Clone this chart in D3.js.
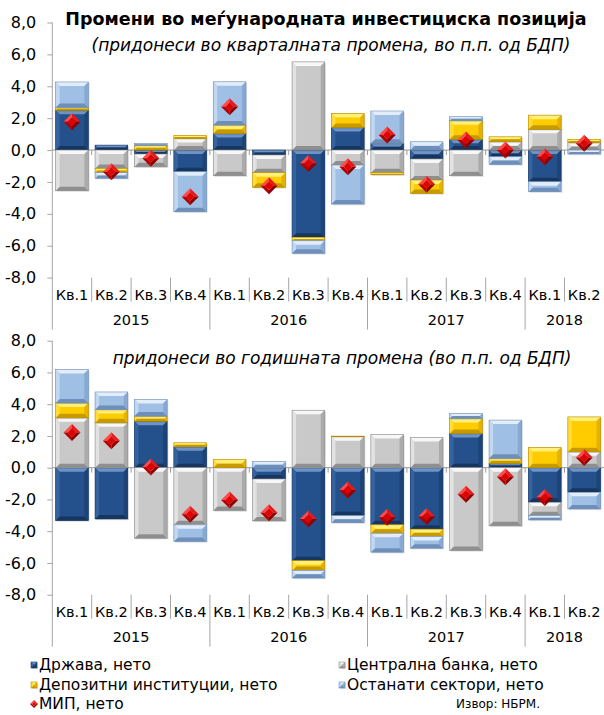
<!DOCTYPE html>
<html><head><meta charset="utf-8">
<script src="https://cdn.jsdelivr.net/npm/d3@7"></script>
<style>
body{margin:0;background:#fff;}
svg{display:block;font-family:"DejaVu Sans",sans-serif;}
</style>
</head><body>
<svg id="chart" width="604" height="715"></svg>
<script>
// Category axis
const quarters = ["Кв.1","Кв.2","Кв.3","Кв.4","Кв.1","Кв.2","Кв.3","Кв.4","Кв.1","Кв.2","Кв.3","Кв.4","Кв.1","Кв.2"];
const years = ["2015","2016","2017","2018"];
const yearSpan = [4,4,4,2];
const yTicks = [-8,-6,-4,-2,0,2,4,6,8];

// Contributions to the quarterly change (p.p. of GDP)
const drzavaQ     = [2.50, 0.31,-0.25,-1.36, 1.04,-0.31,-5.47, 1.42, 0.42,-0.56, 0.67,-0.42,-1.99, 0.00];
const centralnaQ  = [-2.55,-1.15,-0.80, 0.73,-1.61,-1.11, 5.53,-0.94,-1.42,-1.32,-1.61, 0.52, 1.30, 0.46];
const depozitniQ  = [0.17,-0.27, 0.30, 0.19, 0.53,-0.92,-0.22, 0.88,-0.13,-0.84, 1.17, 0.31, 0.89, 0.21];
const ostanatiQ   = [1.60,-0.35, 0.12,-2.51, 2.71, 0.00,-0.79,-2.45, 2.03, 0.52, 0.25,-0.48,-0.62,-0.25];
const mipQ        = [1.78,-1.36,-0.52,-2.93, 2.72,-2.24,-0.84,-1.05, 0.94,-2.15, 0.63, 0.00,-0.42, 0.42];

// Contributions to the annual change (p.p. of GDP)
const drzavaG     = [-3.33,-3.23, 2.93, 1.32, 0.00,-0.71,-5.86,-3.02,-3.60,-3.87, 2.16, 0.27,-2.18,-1.55];
const centralnaG  = [3.14, 2.83,-4.44,-3.60,-2.70,-2.64, 3.62, 1.95, 2.09, 1.91,-5.21,-3.66,-0.84, 1.00];
const depozitniG  = [0.94, 0.83, 0.32, 0.25, 0.52, 0.00,-0.61, 0.04,-0.53,-0.47, 0.94, 0.32, 1.28, 2.20];
const ostanatiG   = [2.10, 1.11, 1.04,-1.05, 0.00, 0.38,-0.48,-0.44,-1.19,-0.73, 0.31, 2.41,-0.27,-1.05];
const mipG        = [2.22, 1.70, 0.05,-2.93,-2.03,-2.83,-3.23,-1.40,-3.12,-3.08,-1.68,-0.57,-1.88, 0.65];

const seriesNames = ["Држава, нето","Централна банка, нето","Депозитни институции, нето","Останати сектори, нето","МИП, нето"];

// Bevelled fills per sector
const palettes = [
  {base:"#24518b", hi:"#6e93c4", lo:"#16365f", left:"#3463a0", right:"#1c4477", edge:"#173a66"},
  {base:"#c9c9c9", hi:"#f7f7f7", lo:"#8f8f8f", left:"#e2e2e2", right:"#ababab", edge:"#8a8a8a"},
  {base:"#ffcc00", hi:"#fff07a", lo:"#c79a00", left:"#ffdc3a", right:"#e4b200", edge:"#b48a00"},
  {base:"#9fbfe5", hi:"#e2edf9", lo:"#6d8fba", left:"#c2d7f0", right:"#88a9d2", edge:"#6f8fb8"}
];

const svg = d3.select("#chart");
const fmt = d3.formatLocale({decimal:",", thousands:".", grouping:[3], currency:["",""], minus:"-"}).format(".1f");
const axisColor = "#a6a6a6";

const x = d3.scaleBand().domain(d3.range(quarters.length)).range([52.3, 603.9]).paddingInner(0.17).paddingOuter(0.085);

function bevelRect(g, bx, v0, v1, w, pal) {
  const top = Math.min(v0, v1), h = Math.abs(v1 - v0);
  if (h < 0.3) return;
  const b = Math.min(4, h / 2, w / 2);
  const x0 = bx, x1 = bx + w, y0 = top, y1 = top + h;
  g.append("rect").attr("x", x0 + 1.2).attr("y", y0 + 1.2).attr("width", w).attr("height", h)
    .attr("fill", "#000").attr("opacity", 0.12);
  g.append("rect").attr("x", x0).attr("y", y0).attr("width", w).attr("height", h).attr("fill", pal.base);
  const poly = (pts, fill) => g.append("polygon").attr("points", pts.map(p => p.join(",")).join(" ")).attr("fill", fill);
  poly([[x0,y0],[x1,y0],[x1-b,y0+b],[x0+b,y0+b]], pal.hi);
  poly([[x0,y1],[x1,y1],[x1-b,y1-b],[x0+b,y1-b]], pal.lo);
  poly([[x0,y0],[x0+b,y0+b],[x0+b,y1-b],[x0,y1]], pal.left);
  poly([[x1,y0],[x1-b,y0+b],[x1-b,y1-b],[x1,y1]], pal.right);
  g.append("rect").attr("x", x0).attr("y", y0).attr("width", w).attr("height", h)
    .attr("fill", "none").attr("stroke", pal.edge).attr("stroke-width", 0.6);
}

function diamond(g, cx, cy, r) {
  const ri = r * 0.5;
  const T=[cx,cy-r], R=[cx+r,cy], B=[cx,cy+r], L=[cx-r,cy];
  const t=[cx,cy-ri], rr=[cx+ri,cy], bb=[cx,cy+ri], l=[cx-ri,cy];
  const poly = (pts, fill) => g.append("polygon").attr("points", pts.map(p => p.join(",")).join(" ")).attr("fill", fill);
  poly([L,T,t,l], "#ff4a4a");
  poly([T,R,rr,t], "#e41b1b");
  poly([R,B,bb,rr], "#8c0000");
  poly([B,L,l,bb], "#b30000");
  poly([t,rr,bb,l], "#e00000");
}

function panel(cfg) {
  const g = svg.append("g");
  const y = d3.scaleLinear().domain([-8, 8]).range([cfg.yBottom, cfg.yTop]);
  const xl = x.range()[0], xr = x.range()[1], step = x.step();
  const base = y(-8);

  // value axis
  const ax = g.append("g").attr("transform", `translate(${xl},0)`)
    .call(d3.axisLeft(y).tickValues(yTicks).tickSize(5).tickPadding(11).tickFormat(fmt));
  ax.select(".domain").remove();
  ax.selectAll(".tick line").attr("stroke", axisColor);
  ax.selectAll(".tick text").attr("font-size", 16).attr("fill", "#000").attr("font-family", "DejaVu Sans");
  g.append("line").attr("x1", xl).attr("x2", xl).attr("y1", y(8)).attr("y2", base + 52).attr("stroke", axisColor);

  // zero line with category ticks
  g.append("line").attr("x1", xl).attr("x2", xr).attr("y1", y(0)).attr("y2", y(0)).attr("stroke", "#9a9a9a");
  d3.range(1, quarters.length).forEach(i => {
    g.append("line").attr("x1", xl + i * step).attr("x2", xl + i * step)
      .attr("y1", y(0)).attr("y2", y(0) + 5).attr("stroke", "#9a9a9a");
  });

  // category separators and labels
  let cum = 0;
  const yearStarts = yearSpan.map(s => { const c = cum; cum += s; return c; });
  d3.range(1, quarters.length).forEach(i => {
    const isYear = yearStarts.includes(i);
    g.append("line").attr("x1", xl + i * step).attr("x2", xl + i * step)
      .attr("y1", base).attr("y2", base + (isYear ? 52 : 24)).attr("stroke", axisColor);
  });
  g.selectAll(".cat").data(quarters).enter().append("text")
    .attr("x", (d, i) => x(i) + x.bandwidth() / 2).attr("y", base + 17.5)
    .attr("text-anchor", "middle").attr("dominant-baseline", "central")
    .attr("font-size", 14.5).text(d => d);
  g.selectAll(".yr").data(years).enter().append("text")
    .attr("x", (d, i) => xl + (yearStarts[i] + yearSpan[i] / 2) * step).attr("y", base + 42.5)
    .attr("text-anchor", "middle").attr("dominant-baseline", "central")
    .attr("font-size", 14.5).text(d => d);

  // stacked sector bars (positives stack upward, negatives downward)
  const bars = g.append("g");
  quarters.forEach((q, i) => {
    let pos = 0, neg = 0;
    cfg.series.forEach((s, k) => {
      const v = s[i];
      if (v >= 0) { bevelRect(bars, x(i), y(pos), y(pos + v), x.bandwidth(), palettes[k]); pos += v; }
      else { bevelRect(bars, x(i), y(neg), y(neg + v), x.bandwidth(), palettes[k]); neg += v; }
    });
  });

  // net IIP markers
  const marks = g.append("g");
  cfg.mip.forEach((v, i) => diamond(marks, x(i) + x.bandwidth() / 2, y(v), 8.5));
  return g;
}

panel({yTop: 22.5, yBottom: 277.6, series: [drzavaQ, centralnaQ, depozitniQ, ostanatiQ], mip: mipQ});
panel({yTop: 340.7, yBottom: 594.7, series: [drzavaG, centralnaG, depozitniG, ostanatiG], mip: mipG});

// titles
svg.append("text").attr("x", 326).attr("y", 19).attr("text-anchor", "middle").attr("dominant-baseline", "central")
  .attr("font-weight", "bold").attr("font-size", 17.5).text("Промени во меѓународната инвестициска позиција");
svg.append("text").attr("x", 331).attr("y", 45).attr("text-anchor", "middle").attr("dominant-baseline", "central")
  .attr("font-style", "italic").attr("font-size", 17).text("(придонеси во кварталната промена, во п.п. од БДП)");
svg.append("text").attr("x", 342).attr("y", 358).attr("text-anchor", "middle").attr("dominant-baseline", "central")
  .attr("font-style", "italic").attr("font-size", 17).text("придонеси во годишната промена (во п.п. од БДП)");

// legend
const legendPos = [[31, 665], [339, 665], [31, 685], [339, 685], [31, 704]];
const lg = svg.append("g");
seriesNames.forEach((name, k) => {
  const [lx, ly] = legendPos[k];
  if (k < 4) {
    bevelRect(lg, lx, ly - 3, ly + 3, 6, palettes[k]);
  } else {
    diamond(lg, lx + 3, ly, 4);
  }
  lg.append("text").attr("x", lx + 8).attr("y", ly).attr("dominant-baseline", "central")
    .attr("font-size", 15.5).text(name);
});
svg.append("text").attr("x", 540).attr("y", 704).attr("text-anchor", "end").attr("dominant-baseline", "central")
  .attr("font-size", 12).text("Извор: НБРМ.");
</script>
</body></html>
